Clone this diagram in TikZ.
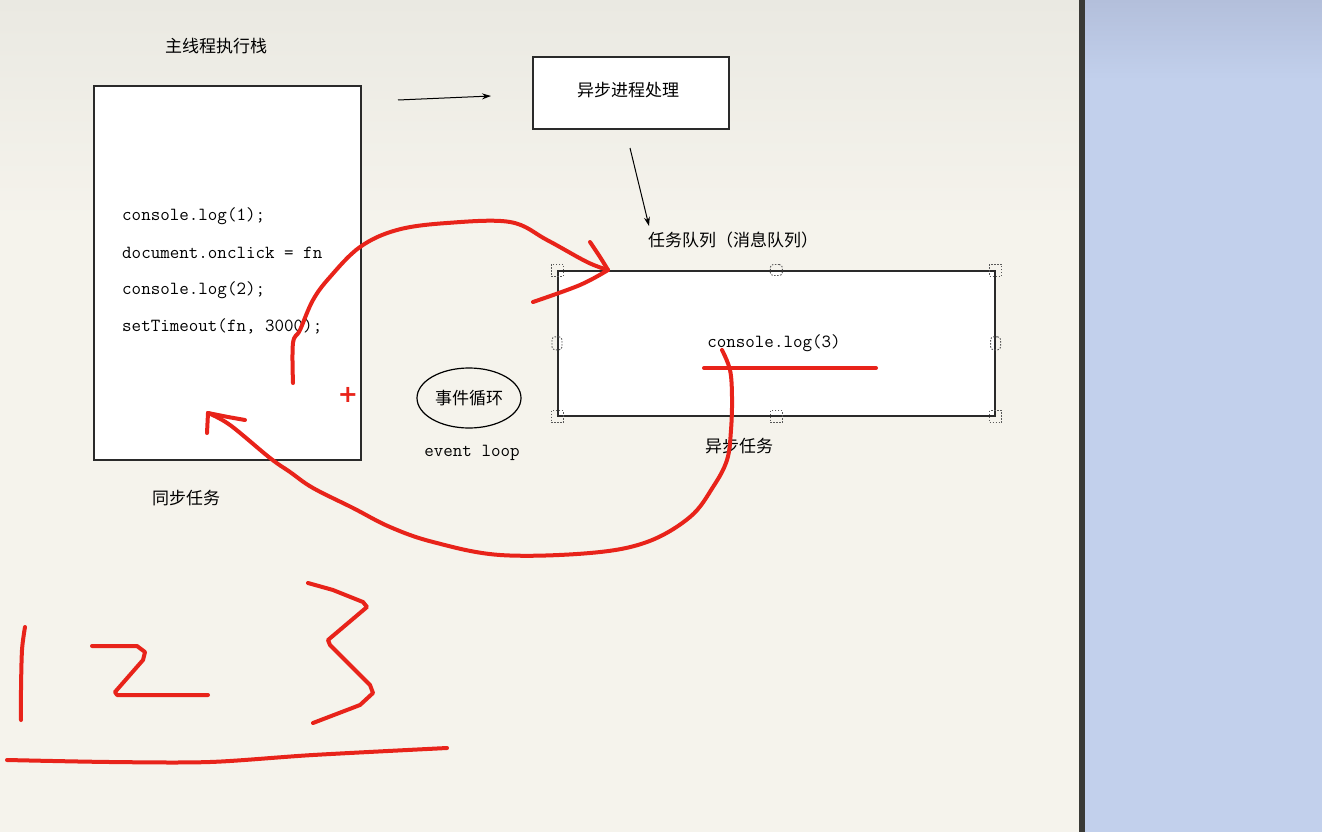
\documentclass[tikz,border=0pt]{standalone}
\usepackage{fontspec}
\newfontfamily\cjk{Noto Sans CJK SC}
\newfontfamily\plusfont{DejaVu Sans}
\usetikzlibrary{arrows.meta,shapes.geometric}
\definecolor{cream}{HTML}{F5F3EC}
\definecolor{creamtop}{HTML}{EAE9E2}
\definecolor{paneblue}{HTML}{C2D0EC}
\definecolor{panetop}{HTML}{B3BFDB}
\definecolor{barcol}{HTML}{3A3A36}
\definecolor{boxline}{HTML}{2A2A2A}
\definecolor{ink}{HTML}{E8231A}
\tikzset{
  box/.style={draw=boxline, line width=1.6pt, fill=white, inner sep=0pt},
  cjklabel/.style={font=\cjk\fontsize{17}{20}\selectfont, text=black, inner sep=0pt},
  codetext/.style={font=\ttfamily\fontsize{18.5}{20}\selectfont, text=black, inner sep=0pt},
  handle/.style={draw=gray!70!black, dash pattern=on 1.5pt off 1.5pt, line width=0.9pt, minimum width=12pt, minimum height=12pt, inner sep=0pt},
  midhandle/.style={handle, minimum height=11pt, rounded corners=3pt},
  blackarrow/.style={draw=black, line width=1pt, -{Stealth[length=9pt,width=6pt]}},
  redstroke/.style={draw=ink, line width=4pt, line cap=round, line join=round}
}
\begin{document}
\begin{tikzpicture}[x=1pt,y=-1pt]
\useasboundingbox (0,0) rectangle (1322,832);
% background
\fill[cream] (0,0) rectangle (1080,832);
\shade[top color=creamtop, bottom color=cream] (0,0) rectangle (1080,220);
\fill[paneblue] (1085,0) rectangle (1322,832);
\shade[top color=panetop, bottom color=paneblue] (1085,0) rectangle (1322,80);
\fill[barcol] (1079,0) rectangle (1085,832);

% main stack
\node[cjklabel] (title) at (216,46) {主线程执行栈};
\node[box, minimum width=267pt, minimum height=374pt, anchor=north west] (stack) at (93,85) {};
\node[codetext, anchor=west] (c1) at (122,216) {console.log(1);};
\node[codetext, anchor=west] (c2) at (122,253) {document.onclick = fn};
\node[codetext, anchor=west] (c3) at (122,290) {console.log(2);};
\node[codetext, anchor=west] (c4) at (122,326) {setTimeout(fn, 3000);};
\node[cjklabel] (sync) at (186,498) {同步任务};
\node[text=ink, font=\plusfont\bfseries\fontsize{24}{24}\selectfont, inner sep=0pt] (plus) at (348,395) {+};

% async process
\node[box, minimum width=196pt, minimum height=72pt, anchor=north west] (proc) at (532,56) {};
\node[cjklabel] (proctext) at (628,90) {异步进程处理};
\coordinate (a1s) at (398,100);
\coordinate (a1e) at (491,96);
\draw[blackarrow] (a1s) -- (a1e);
\coordinate (a2s) at (630,148);
\coordinate (a2e) at (649,226);
\draw[blackarrow] (a2s) -- (a2e);

% queue
\node[cjklabel, anchor=west] (qtitle) at (648,240) {任务队列（消息队列）};
\node[box, minimum width=437pt, minimum height=145pt, anchor=north west] (queue) at (557,270) {};
\node[codetext] (c5) at (774,343) {console.log(3)};
\node[cjklabel] (async) at (739,446) {异步任务};
\node[handle] (h1) at (queue.north west) {};
\node[midhandle] (h2) at (queue.north) {};
\node[handle] (h3) at (queue.north east) {};
\node[midhandle, minimum width=10pt, minimum height=13pt] (h4) at (queue.west) {};
\node[midhandle, minimum width=10pt, minimum height=13pt] (h5) at (queue.east) {};
\node[handle] (h6) at (queue.south west) {};
\node[handle] (h7) at (queue.south) {};
\node[handle] (h8) at (queue.south east) {};

% event loop
\node[draw=black, line width=1.2pt, ellipse, minimum width=104pt, minimum height=60pt, inner sep=0pt] (loop) at (469,398) {};
\node[cjklabel] (looptext) at (469,398) {事件循环};
\node[codetext] (looplabel) at (472,453) {event loop};

% red freehand strokes
\draw[redstroke] plot[smooth, tension=0.6] coordinates {(293,383) (293,343) (300,330) (313,300) (330,277) (360,247) (397,230) (447,223) (510,222) (547,240) (587,262) (608,270)};
\draw[redstroke] plot[smooth, tension=0.6] coordinates {(590,242) (600,257) (608,270)};
\draw[redstroke] plot[smooth, tension=0.6] coordinates {(608,270) (580,285) (533,302)};

\draw[redstroke] plot[smooth, tension=0.6] coordinates {(722,350) (730,370) (732,397) (731,430) (727,460) (713,487) (690,517) (647,542) (590,553) (500,555) (433,542) (390,527) (353,508) (313,488) (290,472) (270,458) (230,425) (208,413)};
\draw[redstroke] (208,413) -- (207,433);
\draw[redstroke] (208,413) -- (228,417) -- (245,420);

\draw[redstroke] (704,368) -- (876,368);

% 1 2 3
\draw[redstroke] plot[smooth, tension=0.5] coordinates {(25,627) (22,650) (21,690) (21,720)};
\draw[redstroke] (92,646) -- (137,646) -- (145,652) -- (143,660) -- (115,692) -- (117,695) -- (208,695);
\draw[redstroke] (308,583) -- (333,590) -- (363,602) -- (367,607) -- (328,640) -- (330,645) -- (370,685) -- (373,693) -- (360,705) -- (313,723);
\draw[redstroke] plot[smooth, tension=0.5] coordinates {(7,760) (110,762) (210,762) (313,755) (447,748)};
\end{tikzpicture}
\end{document}
